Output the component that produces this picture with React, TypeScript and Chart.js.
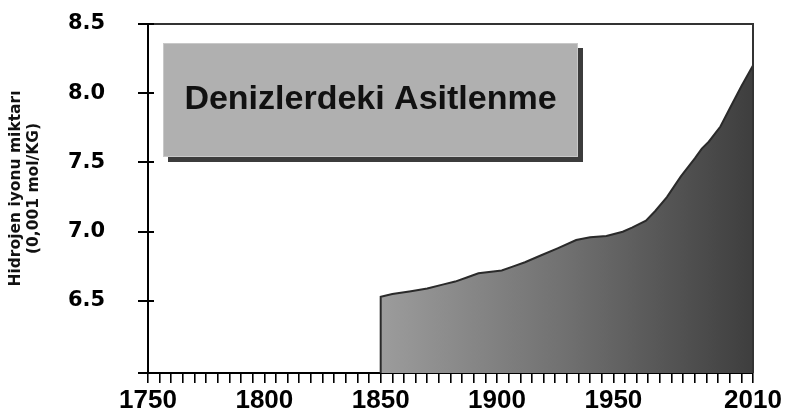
import React, { useEffect, useRef } from 'react';
import { Chart, registerables } from 'chart.js';

Chart.register(...registerables);

// ---- data ----
const years = [1850, 1855, 1863, 1870, 1877, 1882, 1887, 1892, 1902, 1907, 1912, 1919, 1926, 1934, 1940, 1947, 1954, 1958, 1964, 1968, 1973, 1979, 1985, 1988, 1991, 1996, 2000, 2005, 2010];
const values = [6.53, 6.55, 6.57, 6.59, 6.62, 6.64, 6.67, 6.70, 6.72, 6.75, 6.78, 6.83, 6.88, 6.94, 6.96, 6.97, 7.00, 7.03, 7.08, 7.15, 7.25, 7.40, 7.53, 7.60, 7.65, 7.76, 7.89, 8.05, 8.20];
const xLabelYears = [1750, 1800, 1850, 1900, 1950, 2010];
const yTickValues = [6.5, 7.0, 7.5, 8.0, 8.5];
const X_MIN = 1750;
const X_MAX = 2010;
const X_STEP = 5;
const Y_MIN = 5.98;
const Y_MAX = 8.5;
const chartTitle = 'Denizlerdeki Asitlenme';
const yTitle = ['Hidrojen iyonu miktarı', '(0,001 mol/KG)'];

const decorPlugin = {
  id: 'decor',
  afterDraw(chart: any) {
    const { ctx, chartArea: ca } = chart;
    ctx.save();
    // frame top / right
    ctx.strokeStyle = '#333';
    ctx.lineWidth = 2;
    ctx.beginPath();
    ctx.moveTo(ca.left, ca.top);
    ctx.lineTo(ca.right, ca.top);
    ctx.lineTo(ca.right, ca.bottom);
    ctx.stroke();
    // inner stubs of y ticks + bottom extension
    const ys = chart.scales.y;
    ctx.strokeStyle = '#000';
    ctx.beginPath();
    for (const v of yTickValues) {
      const py = Math.round(ys.getPixelForValue(v));
      ctx.moveTo(ca.left, py);
      ctx.lineTo(ca.left + 6, py);
    }
    ctx.moveTo(ca.left - 10, ca.bottom);
    ctx.lineTo(ca.left, ca.bottom);
    ctx.stroke();
    // y axis title (two rotated lines)
    ctx.save();
    ctx.fillStyle = '#111';
    ctx.font = 'bold 15.5px "DejaVu Sans", sans-serif';
    ctx.textAlign = 'center';
    ctx.textBaseline = 'middle';
    const midY = (ca.top + ca.bottom) / 2 - 10;
    yTitle.forEach((line, i) => {
      ctx.save();
      ctx.translate(16 + i * 18, midY);
      ctx.rotate(-Math.PI / 2);
      ctx.fillText(line, 0, 0);
      ctx.restore();
    });
    ctx.restore();
    // title box with shadow
    const bx = ca.left + 15;
    const by = ca.top + 19;
    const bw = 415;
    const bh = 114;
    ctx.fillStyle = '#3c3c3c';
    ctx.fillRect(bx + 5, by + 5, bw, bh);
    ctx.fillStyle = '#b0b0b0';
    ctx.fillRect(bx, by, bw, bh);
    ctx.strokeStyle = '#c8c8c8';
    ctx.lineWidth = 1;
    ctx.strokeRect(bx + 0.5, by + 0.5, bw - 1, bh - 1);
    ctx.fillStyle = '#111';
    ctx.font = 'bold 34px "Liberation Sans", Arial, sans-serif';
    ctx.textAlign = 'center';
    ctx.textBaseline = 'middle';
    ctx.fillText(chartTitle, bx + bw / 2, by + bh / 2);
    ctx.restore();
  },
};

export default function App() {
  const ref = useRef<HTMLCanvasElement>(null);

  useEffect(() => {
    if (!ref.current) return;
    const data = [{ x: years[0], y: Y_MIN }, ...years.map((yr, i) => ({ x: yr, y: values[i] }))];
    const chart = new Chart(ref.current, {
      type: 'line',
      data: {
        datasets: [
          {
            data,
            borderColor: '#2a2a2a',
            borderWidth: 2,
            pointRadius: 0,
            tension: 0,
            fill: 'start',
            backgroundColor: (c: any) => {
              const ch = c.chart;
              if (!ch.chartArea) return '#777';
              const xs = ch.scales.x;
              const g = ch.ctx.createLinearGradient(xs.getPixelForValue(years[0]), 0, xs.getPixelForValue(X_MAX), 0);
              g.addColorStop(0, '#9c9c9c');
              g.addColorStop(0.5, '#707070');
              g.addColorStop(1, '#3e3e3e');
              return g;
            },
          },
        ],
      },
      options: {
        animation: false,
        responsive: false,
        layout: { padding: { top: 24, right: 33, left: 68, bottom: 0 } },
        plugins: { legend: { display: false }, tooltip: { enabled: false } },
        scales: {
          x: {
            type: 'linear',
            min: X_MIN,
            max: X_MAX,
            afterBuildTicks: (s: any) => {
              const t = [];
              for (let v = X_MIN; v <= X_MAX; v += X_STEP) t.push({ value: v });
              s.ticks = t;
            },
            afterFit: (s: any) => {
              s.height = 35;
            },
            grid: { drawOnChartArea: false, tickLength: 10, color: '#000', lineWidth: 1.6 },
            border: { display: true, color: '#000', width: 2 },
            ticks: {
              autoSkip: false,
              maxRotation: 0,
              padding: 2,
              color: '#000',
              font: { family: '"Liberation Sans", Arial', weight: 'bold', size: 26 },
              callback: (v: any) => (xLabelYears.includes(v) ? String(v) : ''),
            },
          },
          y: {
            type: 'linear',
            min: Y_MIN,
            max: Y_MAX,
            afterBuildTicks: (s: any) => {
              s.ticks = yTickValues.map((v) => ({ value: v }));
            },
            afterFit: (s: any) => {
              s.width = 80;
            },
            grid: { drawOnChartArea: false, tickLength: 10, color: '#000', lineWidth: 2 },
            border: { display: true, color: '#000', width: 2 },
            ticks: {
              padding: 2,
              crossAlign: 'far',
              color: '#000',
              font: { family: '"DejaVu Sans"', weight: 'bold', size: 21 },
              callback: (v: any) => Number(v).toFixed(1),
            },
          },
        },
      },
      plugins: [decorPlugin],
    } as any);
    return () => chart.destroy();
  }, []);

  return (
    <div style={{ position: 'absolute', left: 0, top: 0, width: 786, height: 408, background: '#fff' }}>
      <canvas ref={ref} width={786} height={408} />
    </div>
  );
}
